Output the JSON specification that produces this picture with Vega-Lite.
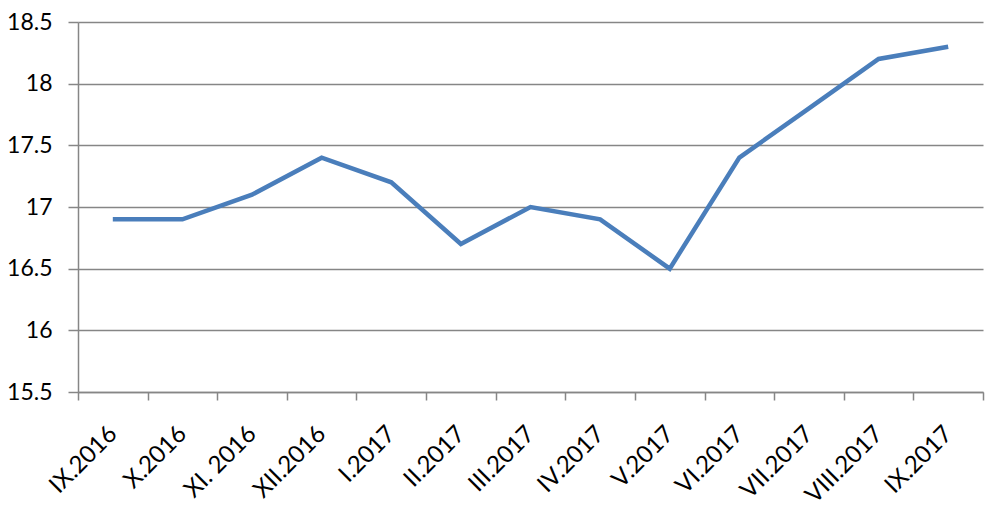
{
  "$schema": "https://vega.github.io/schema/vega-lite/v6.json",
  "autosize": "none",
  "width": 905,
  "height": 370,
  "padding": {"left": 78, "top": 22, "right": 17, "bottom": 132},
  "background": "white",
  "config": {"view": {"stroke": null}},
  "data": {"values": [
    {"month": "IX.2016", "value": 16.9},
    {"month": "X.2016", "value": 16.9},
    {"month": "XI. 2016", "value": 17.1},
    {"month": "XII.2016", "value": 17.4},
    {"month": "I.2017", "value": 17.2},
    {"month": "II.2017", "value": 16.7},
    {"month": "III.2017", "value": 17.0},
    {"month": "IV.2017", "value": 16.9},
    {"month": "V.2017", "value": 16.5},
    {"month": "VI.2017", "value": 17.4},
    {"month": "VII.2017", "value": 17.8},
    {"month": "VIII.2017", "value": 18.2},
    {"month": "IX.2017", "value": 18.3}
  ]},
  "mark": {"type": "line", "color": "#4a7ebb", "strokeWidth": 4.5, "strokeJoin": "miter"},
  "encoding": {
    "x": {
      "field": "month", "type": "nominal", "sort": null,
      "scale": {"type": "band", "paddingInner": 0, "paddingOuter": 0},
      "axis": {
        "title": null, "labelAngle": -45, "labelAlign": "right", "labelBaseline": "middle",
        "labelFont": "Lato", "labelFontSize": 24, "labelColor": "#000000", "labelPadding": 30,
        "labelOffset": 0,
        "tickBand": "extent", "tickColor": "#868686", "tickSize": 8, "domainColor": "#868686",
        "domainWidth": 1.5, "tickWidth": 1.5, "grid": false
      }
    },
    "y": {
      "field": "value", "type": "quantitative",
      "scale": {"domain": [15.5, 18.5], "zero": false, "nice": false},
      "axis": {
        "title": null, "values": [15.5, 16, 16.5, 17, 17.5, 18, 18.5], "format": "~g",
        "labelFont": "Lato", "labelFontSize": 23, "labelColor": "#000000", "labelPadding": 16,
        "tickColor": "#868686", "tickSize": 10, "tickWidth": 1.5, "domainColor": "#868686", "domainWidth": 1.5,
        "grid": true, "gridColor": "#868686", "gridWidth": 1.5
      }
    }
  }
}
